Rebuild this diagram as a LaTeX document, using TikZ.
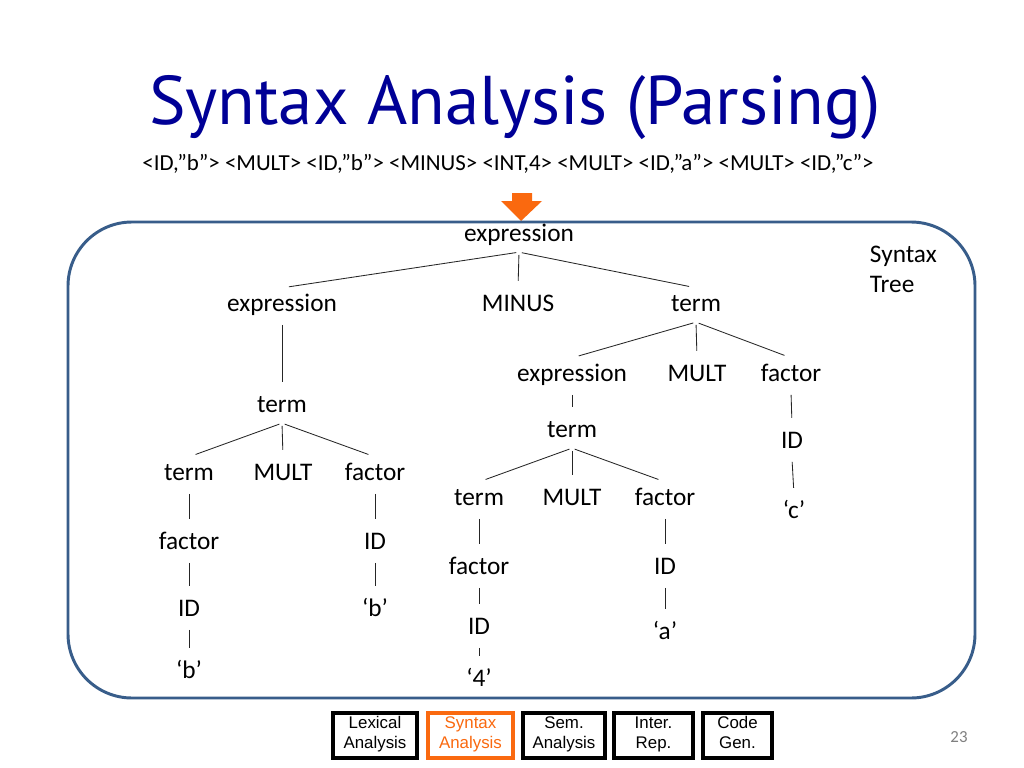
\documentclass[tikz,border=0pt]{standalone}
\usepackage{fontspec}
\setmainfont{Carlito}
\newfontfamily\titlefont{PT Sans}
\newfontfamily\stagefont{Liberation Sans}
\definecolor{titleblue}{RGB}{0,0,150}
\definecolor{treeframe}{RGB}{56,93,138}
\definecolor{parseorange}{RGB}{250,105,15}

\tikzset{
    sym/.style={font=\fontsize{18}{21.6}\selectfont, text height=13pt, text depth=4pt, inner xsep=0pt, inner ysep=3.5pt},
    edge/.style={black!85, line width=0.6pt, shorten <=2pt, shorten >=5pt},
    stage/.style={draw=black, line width=2.8pt, font=\stagefont\fontsize{12}{14.2}\selectfont, align=center, minimum height=1.125cm, inner sep=0pt,
        execute at begin node={\strut}, execute at end node={\strut}},
}

\begin{document}
\begin{tikzpicture}[x=0.025cm, y=-0.025cm]
\useasboundingbox[fill=white] (0,0) rectangle (1024,768);

% Title and token stream
\node[anchor=base, text=titleblue, font=\titlefont\fontsize{49}{56}\selectfont] (title) at (515,125) {Syntax Analysis (Parsing)};
\node[anchor=base, font=\fontsize{16.3}{19}\selectfont] (tokens) at (508,171) {<ID,”b”> <MULT> <ID,”b”> <MINUS> <INT,4> <MULT> <ID,”a”> <MULT> <ID,”c”>};

% Arrow into the tree
\fill[parseorange] (512,193) -- (532,193) -- (532,201) -- (542,201) -- (521,221) -- (501,201) -- (512,201) -- cycle;

% Frame
\draw[treeframe, line width=2.1pt, rounded corners=1.6cm] (68,222) rectangle (975,698);
\node[anchor=base west, align=left, font=\fontsize{18}{21.3}\selectfont] (treelabel) at (865,292) {Syntax\\Tree};

% Tree: top levels
\node[sym] (root) at (519,235) {expression};
\node[sym] (e1) at (282,305) {expression};
\node[sym] (minus) at (518,305) {MINUS};
\node[sym] (t1) at (696,305) {term};

% left branch: b * b
\node[sym] (t2) at (282,406) {term};
\node[sym] (t3) at (189,474) {term};
\node[sym] (mult1) at (283,474) {MULT};
\node[sym] (f1) at (375,474) {factor};
\node[sym] (f2) at (189,543) {factor};
\node[sym] (id1) at (189,610) {ID};
\node[sym] (b1) at (189,672) {‘b’};
\node[sym] (id2) at (375,543) {ID};
\node[sym] (b2) at (375,610) {‘b’};

% right branch: 4 * a * c
\node[sym] (e2) at (572,375) {expression};
\node[sym] (mult2) at (697,375) {MULT};
\node[sym] (f3) at (791,375) {factor};
\node[sym] (t4) at (572,431) {term};
\node[sym] (id3) at (792,442) {ID};
\node[sym] (c1) at (794,512) {‘c’};
\node[sym] (t5) at (479,499) {term};
\node[sym] (mult3) at (572,499) {MULT};
\node[sym] (f4) at (665,499) {factor};
\node[sym] (f5) at (479,568) {factor};
\node[sym] (id4) at (479,628) {ID};
\node[sym] (n4) at (479,680) {‘4’};
\node[sym] (id5) at (665,568) {ID};
\node[sym] (a1) at (665,633) {‘a’};

% Edges
\foreach \p/\c in {root/e1, root/minus, root/t1, e1/t2, t2/t3, t2/mult1, t2/f1,
    t3/f2, f2/id1, id1/b1, f1/id2, id2/b2, t1/e2, t1/mult2, t1/f3, e2/t4,
    f3/id3, id3/c1, t4/t5, t4/mult3, t4/f4, t5/f5, f5/id4, id4/n4, f4/id5, id5/a1} {
    \draw[edge] (\p.south) -- (\c.north);
}

% Compiler phases
\node[stage, minimum width=2.1cm] (lex) at (375,735.5) {Lexical\\Analysis};
\node[stage, minimum width=2.125cm, draw=parseorange, text=parseorange] (syn) at (470.5,735.5) {Syntax\\Analysis};
\node[stage, minimum width=2.05cm] (sem) at (564,735.5) {Sem.\\Analysis};
\node[stage, minimum width=1.975cm] (ir) at (653.5,735.5) {Inter.\\Rep.};
\node[stage, minimum width=1.725cm] (gen) at (737.5,735.5) {Code\\Gen.};

% Slide number
\node[anchor=base, text=black!50, font=\fontsize{12}{14}\selectfont] (pagenum) at (959,742) {23};
\end{tikzpicture}
\end{document}
